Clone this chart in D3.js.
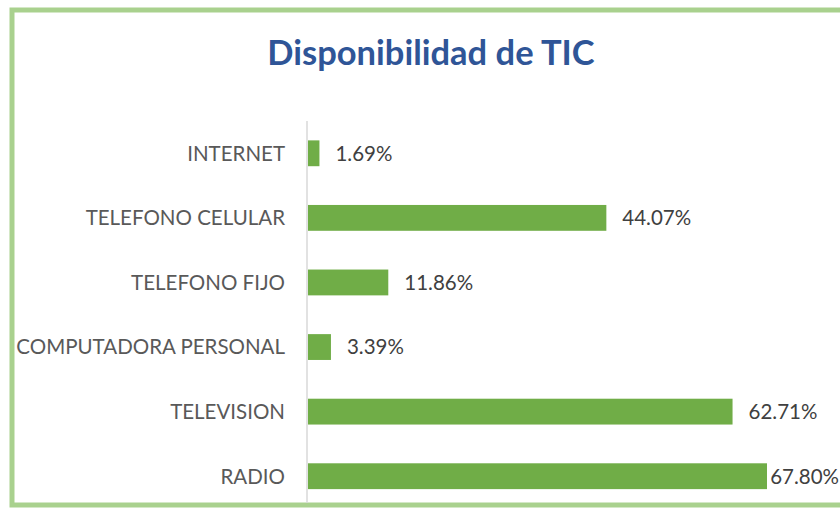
<!DOCTYPE html>
<meta charset="utf-8">
<style>
  body { margin: 0; background: #fff; }
  .cat { font-family: Lato, sans-serif; font-size: 20.5px; fill: #595959; text-anchor: end; }
  .val { font-family: Lato, sans-serif; font-size: 20.5px; fill: #404040; }
  .title { font-family: Lato, sans-serif; font-size: 34.5px; font-weight: bold; fill: #2f5597; text-anchor: middle; }
</style>
<svg class="chart" width="840" height="508"></svg>
<script src="https://d3js.org/d3.v7.min.js"></script>
<script>
  var categories = ["INTERNET", "TELEFONO CELULAR", "TELEFONO FIJO", "COMPUTADORA PERSONAL", "TELEVISION", "RADIO"];
  var values = [1.69, 44.07, 11.86, 3.39, 62.71, 67.80];
  var valueLabels = ["1.69%", "44.07%", "11.86%", "3.39%", "62.71%", "67.80%"];

  var svg = d3.select(".chart"),
      width = +svg.attr("width"),
      height = +svg.attr("height");

  // chart frame
  svg.append("rect")
      .attr("x", 12).attr("y", 10)
      .attr("width", width + 10).attr("height", 495)
      .attr("fill", "#fff")
      .attr("stroke", "#a9d18e")
      .attr("stroke-width", 5);

  svg.append("text")
      .attr("class", "title")
      .attr("x", 431).attr("y", 65)
      .text("Disponibilidad de TIC");

  var x = d3.scaleLinear().domain([0, 67.8]).range([308, 767]);
  var y = d3.scaleBand().domain(categories).range([121, 508.5])
      .paddingInner(0.6).paddingOuter(0.3);

  svg.append("line")
      .attr("x1", 307).attr("x2", 307)
      .attr("y1", 121).attr("y2", 503)
      .attr("stroke", "#d9d9d9")
      .attr("stroke-width", 1.5);

  svg.append("g").selectAll("rect")
      .data(categories)
      .enter().append("rect")
        .attr("x", x(0))
        .attr("y", function(d) { return y(d); })
        .attr("width", function(d, i) { return x(values[i]) - x(0); })
        .attr("height", y.bandwidth())
        .attr("fill", "#70ad47");

  svg.append("g").selectAll("text")
      .data(categories)
      .enter().append("text")
        .attr("class", "cat")
        .attr("x", 285)
        .attr("y", function(d) { return y(d) + y.bandwidth() / 2 + 7.4; })
        .text(function(d) { return d; });

  svg.append("g").selectAll("text")
      .data(categories)
      .enter().append("text")
        .attr("class", "val")
        .attr("y", function(d) { return y(d) + y.bandwidth() / 2 + 7.4; })
        .text(function(d, i) { return valueLabels[i]; })
        .attr("x", function(d, i) {
          var w = this.getComputedTextLength();
          return Math.min(x(values[i]) + 16, width - w - 1);
        });
</script>
